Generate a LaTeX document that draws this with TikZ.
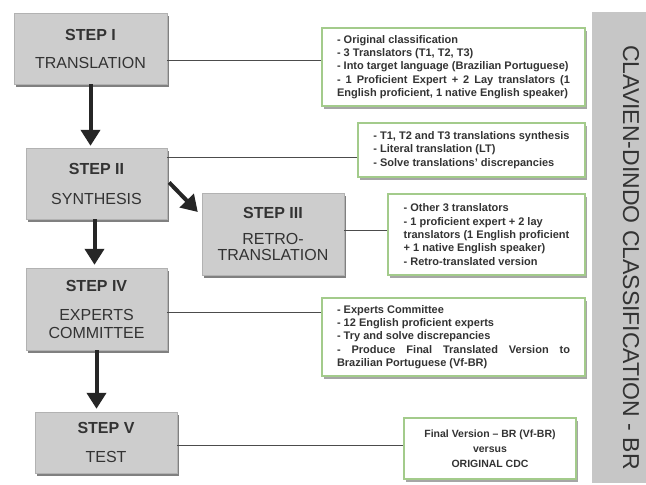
\documentclass[tikz,border=0pt]{standalone}
\usepackage{fontspec}
\setmainfont{Liberation Sans}
\usetikzlibrary{arrows.meta,shadows}
\definecolor{stepfill}{HTML}{CDCDCD}
\definecolor{notegreen}{HTML}{A3CB8B}
\definecolor{panelgray}{HTML}{C6C6C6}

\begin{document}
\begin{tikzpicture}[x=1pt,y=-1pt]
    \tikzstyle{every node} = [font=\fontsize{11}{13.3}\selectfont\bfseries, text=black!80]
    \tikzstyle{stepbox} = [draw=black!30, fill=stepfill, rectangle, inner sep=0pt, align=center, font=\fontsize{16}{13}\selectfont, drop shadow={shadow xshift=2pt, shadow yshift=-2.5pt, fill=black!50, opacity=1}]
    \tikzstyle{notebox} = [draw=notegreen, line width=1.3pt, fill=white, rectangle, inner sep=0pt, drop shadow={shadow xshift=2pt, shadow yshift=-2.5pt, fill=black!35, opacity=1}]
    \tikzstyle{flow} = [line width=4pt, draw=black!85, -{Stealth[inset=0pt,length=16pt,width=19pt]}]
    \tikzstyle{link} = [line width=0.8pt, draw=black!70]
    \useasboundingbox (0,0) rectangle (646,485);
    % place nodes
    \node[stepbox, minimum width=153pt, minimum height=71pt] (stepOne) at (90.5,48.5) {\textbf{STEP I}\\[15pt]TRANSLATION};
    \node[stepbox, minimum width=141pt, minimum height=71pt] (stepTwo) at (96.5,183.5) {\textbf{STEP II}\\[17pt]SYNTHESIS};
    \node[stepbox, minimum width=142pt, minimum height=82pt] (stepThree) at (273,234) {\textbf{STEP III}\\[13pt]RETRO-\\[2.5pt]TRANSLATION};
    \node[stepbox, minimum width=141pt, minimum height=82pt] (stepFour) at (96.5,309) {\textbf{STEP IV}\\[16pt]EXPERTS\\[5pt]COMMITTEE};
    \node[stepbox, minimum width=142pt, minimum height=61pt] (stepFive) at (106,442.5) {\textbf{STEP V}\\[16pt]TEST};

    \node[notebox, minimum width=263pt, minimum height=78pt, align=left] (noteOne) at (453.5,67) {%
      - Original classification\\
      - 3 Translators (T1, T2, T3)\\
      - Into target language (Brazilian Portuguese)\\
      \makebox[233pt][s]{- 1 Proficient Expert + 2 Lay translators (1}\\
      English proficient, 1 native English speaker)};
    \node[notebox, minimum width=227pt, minimum height=54pt, align=left] (noteTwo) at (471.5,150) {%
      - T1, T2 and T3 translations synthesis\\
      - Literal translation (LT)\\
      - Solve translations' discrepancies};
    \node[notebox, minimum width=197pt, minimum height=81pt, align=left] (noteThree) at (486.5,234.5) {%
      - Other 3 translators\\
      - 1 proficient expert + 2 lay\\
      translators (1 English proficient\\
      + 1 native English speaker)\\
      - Retro-translated version};
    \node[notebox, minimum width=263pt, minimum height=78pt, align=left] (noteFour) at (453.5,337) {%
      - Experts Committee\\
      - 12 English proficient experts\\
      - Try and solve discrepancies\\
      \makebox[233pt][s]{- Produce Final Translated Version to}\\
      Brazilian Portuguese (Vf-BR)};
    \node[notebox, minimum width=172pt, minimum height=61pt, align=center, font=\fontsize{10.5}{15}\selectfont\bfseries] (noteFive) at (490,448.5) {%
      Final Version -- BR (Vf-BR)\\
      versus\\
      ORIGINAL CDC};

    \node[fill=panelgray, minimum width=54pt, minimum height=471pt, inner sep=0pt] (cdcPanel) at (619,247.5) {};
    \node[rotate=-90, font=\fontsize{23}{26}\selectfont] (cdcTitle) at ([xshift=12pt,yshift=-10pt]cdcPanel.center) {CLAVIEN-DINDO CLASSIFICATION - BR};

    % Connections
    \draw[flow] (stepOne.south) -- ([yshift=2pt]stepOne.south |- stepTwo.north);
    \draw[flow] ([xshift=-2pt]stepTwo.south) -- ([xshift=-2pt,yshift=3pt]stepTwo.south |- stepFour.north);
    \draw[flow] (stepFour.south) -- ([yshift=3pt]stepFour.south |- stepFive.north);
    \draw[flow] ([xshift=2pt,yshift=1pt]stepTwo.east) -- ([xshift=-4pt,yshift=22pt]stepThree.west);

    \draw[link] ([yshift=-12pt]stepOne.east) -- ([yshift=-12pt]stepOne.east -| noteOne.west);
    \draw[link] ([yshift=-7pt]noteTwo.west) -- ([yshift=-7pt]noteTwo.west -| stepTwo.east);
    \draw[link] ([yshift=4pt]stepThree.east) -- ([yshift=4pt]stepThree.east -| noteThree.west);
    \draw[link] ([yshift=-3pt]stepFour.east) -- ([yshift=-3pt]stepFour.east -| noteFour.west);
    \draw[link] ([yshift=-3pt]stepFive.east) -- ([yshift=-3pt]stepFive.east -| noteFive.west);
\end{tikzpicture}
\end{document}
